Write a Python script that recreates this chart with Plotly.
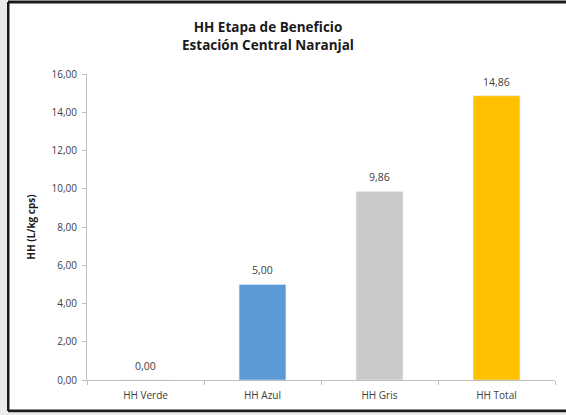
import plotly.graph_objects as go

categories = ["HH Verde", "HH Azul", "HH Gris", "HH Total"]
values = [0.00, 5.00, 9.86, 14.86]
colors = ["#70AD47", "#5B9BD5", "#C9C9C9", "#FFC000"]
y_ticks = [0, 2, 4, 6, 8, 10, 12, 14, 16]

W, H = 566, 415
L, R, T, B = 87, 11, 74, 35
pw, ph = W - L - R, H - T - B

def px(x):
    return (x - L) / pw

def py(y):
    return (H - B - y) / ph

def fmt(v):
    return f"{v:.2f}".replace(".", ",")

fig = go.Figure(go.Bar(
    x=categories, y=values, marker_color=colors, width=0.4,
))

annotations = [
    dict(x=c, y=v, xref="x", yref="y", text=fmt(v), showarrow=False,
         yanchor="bottom", yshift=5,
         font=dict(family="Open Sans", size=10.5, color="#404040"))
    for c, v in zip(categories, values)
]

frame = dict(color="#1a1a1a", width=3)
bx0, bx1, by0, by1 = px(8), px(566), py(411), py(2)
shapes = [
    dict(type="line", xref="paper", yref="paper", layer="below",
         x0=bx0, x1=bx0, y0=by0, y1=by1, line=frame),
    dict(type="line", xref="paper", yref="paper", layer="below",
         x0=bx0, x1=bx1, y0=by1, y1=by1, line=frame),
    dict(type="line", xref="paper", yref="paper", layer="below",
         x0=bx0, x1=bx1, y0=by0, y1=by0, line=frame),
    dict(type="rect", xref="paper", yref="paper", layer="below",
         x0=px(0), x1=px(7), y0=py(415), y1=py(0),
         fillcolor="#EBEBEB", line=dict(width=0)),
    dict(type="rect", xref="paper", yref="paper", layer="below",
         x0=px(0), x1=px(566), y0=py(415), y1=py(412.5),
         fillcolor="#EBEBEB", line=dict(width=0)),
]

fig.update_layout(
    width=W, height=H,
    margin=dict(l=L, r=R, t=T, b=B),
    paper_bgcolor="white", plot_bgcolor="rgba(0,0,0,0)",
    showlegend=False,
    annotations=annotations,
    title=dict(
        text="HH Etapa de Beneficio<br>Estación Central Naranjal",
        x=268 / W, xanchor="center", xref="container",
        y=1 - 32 / H, yanchor="top", yref="container",
        font=dict(family="Open Sans", size=13.5, color="#1a1a1a", weight="bold"),
    ),
    shapes=shapes,
    font=dict(family="Open Sans"),
    separators=",.",
)

fig.update_yaxes(
    range=[0, 16], tickvals=y_ticks, tickformat=".2f",
    showgrid=False, zeroline=False,
    showline=True, linecolor="#BFBFBF", linewidth=1,
    ticks="outside", ticklen=4, tickcolor="#BFBFBF",
    ticklabelstandoff=3,
    tickfont=dict(family="Open Sans", size=10, color="#404040"),
    title=dict(text="<b>HH (L/kg cps)</b>", standoff=14,
               font=dict(family="Open Sans", size=10, color="#1a1a1a")),
)
fig.update_xaxes(
    showgrid=False, showline=True, linecolor="#BFBFBF", linewidth=1,
    ticks="outside", tickson="boundaries", ticklen=4, tickcolor="#BFBFBF",
    ticklabelstandoff=6,
    tickfont=dict(family="Open Sans", size=10, color="#404040"),
)

fig.write_html("out.html", config={"displayModeBar": False},
               post_script="document.body.style.margin='0';document.body.style.overflow='hidden';")
